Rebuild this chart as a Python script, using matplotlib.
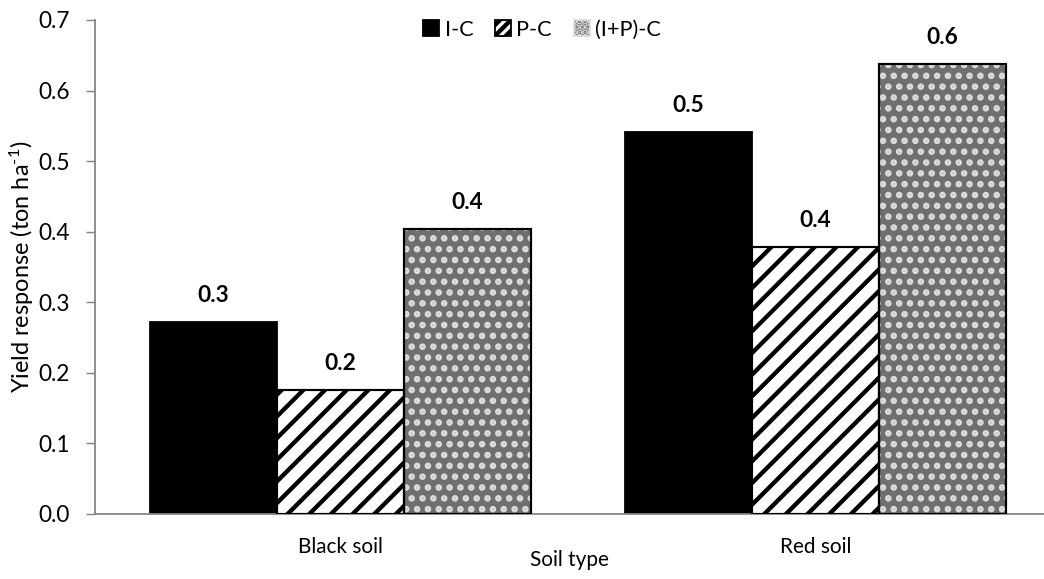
import matplotlib
matplotlib.use("Agg")
import matplotlib.pyplot as plt
import numpy as np
from matplotlib.patches import Patch

plt.rcParams['font.family'] = ['Lato', 'DejaVu Sans']
plt.rcParams['mathtext.default'] = 'regular'
plt.rcParams['hatch.linewidth'] = 2.4

soils = ["Black soil", "Red soil"]
series = ["I-C", "P-C", "(I+P)-C"]
ic_vals = [0.272, 0.541]
pc_vals = [0.176, 0.378]
ipc_vals = [0.404, 0.638]
yticks = [0.0, 0.1, 0.2, 0.3, 0.4, 0.5, 0.6, 0.7]

DPI = 130
fig = plt.figure(figsize=(1044 / DPI, 579 / DPI), dpi=DPI)
ax = fig.add_axes([95 / 1044, 1 - 514 / 579, (1044 - 95) / 1044, (514 - 20) / 579])

x = np.arange(len(soils))
w = 0.267
gray = '#6f6f6f'

ax.bar(x - w, ic_vals, w, color='black', edgecolor='black', linewidth=1, zorder=2)
ax.bar(x, pc_vals, w, color='white', edgecolor='black', hatch='//', linewidth=0, zorder=2)
ax.bar(x, pc_vals, w, color='none', edgecolor='black', linewidth=1.2, zorder=3)
ax.bar(x + w, ipc_vals, w, color=gray, edgecolor='#dcdcdc', hatch='..', linewidth=0, zorder=2)
ax.bar(x + w, ipc_vals, w, color='none', edgecolor='black', linewidth=1.2, zorder=3)

for offs, vals in [(-w, ic_vals), (0, pc_vals), (w, ipc_vals)]:
    for xi, v in zip(x, vals):
        ax.annotate(f"{v:.1f}", (xi + offs, v), xytext=(0, 9), textcoords='offset points',
                    ha='center', va='bottom', fontsize=12.5, fontweight='bold')

ax.set_xlim(-0.517, 1.481)
ax.set_ylim(0, 0.7)
ax.set_yticks(yticks)
ax.set_yticklabels([f"{t:.1f}" for t in yticks])
ax.set_xticks(x)
ax.set_xticklabels(soils)

for s in ['top', 'right']:
    ax.spines[s].set_visible(False)
for s in ['left', 'bottom']:
    ax.spines[s].set_color('#868686')
    ax.spines[s].set_linewidth(1.0)
ax.tick_params(axis='y', direction='out', length=5, color='#868686', labelsize=12.5, pad=9)
ax.tick_params(axis='x', length=0, labelsize=11.5, pad=13)

ax.set_ylabel("Yield response (ton ha$^{\u20101}$)", fontsize=13)
ax.yaxis.set_label_coords(-0.062, 0.5)
ax.set_xlabel("Soil type", fontsize=11.5, labelpad=-4)

handles = [Patch(facecolor='black', edgecolor='black'),
           Patch(facecolor='white', edgecolor='black', hatch='////'),
           Patch(facecolor=gray, edgecolor='#dcdcdc', hatch='....')]
ax.legend(handles, series, loc='upper center', bbox_to_anchor=(0.471, 1.04), ncol=3,
          frameon=False, fontsize=12, handlelength=0.75, handleheight=0.75,
          handletextpad=0.25, columnspacing=1.0)

fig.savefig("out.png", dpi=DPI)
